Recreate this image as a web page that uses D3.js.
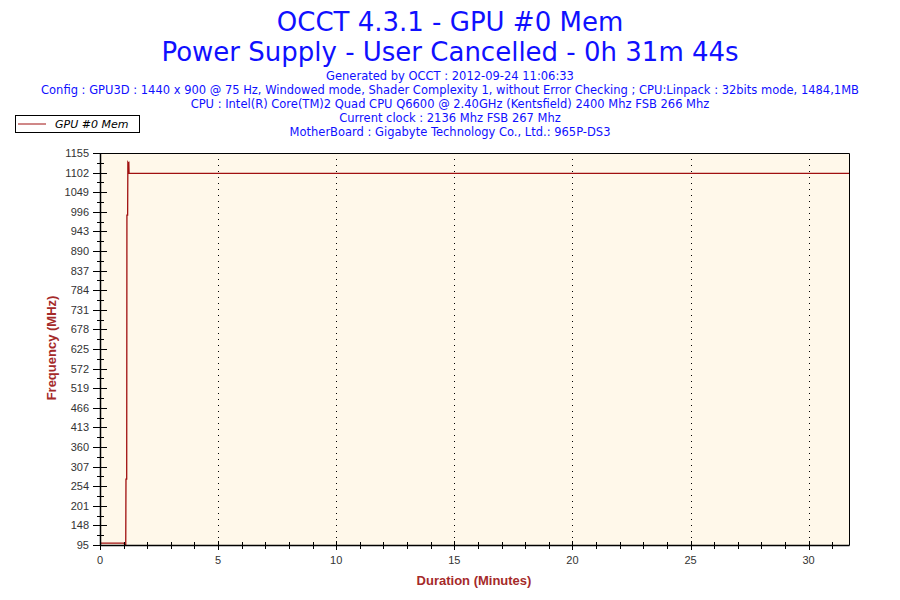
<!DOCTYPE html>
<html><head><meta charset="utf-8">
<script src="https://cdn.jsdelivr.net/npm/d3@7/dist/d3.min.js"></script>
<style>body{margin:0;background:#fff}svg{display:block}</style>
</head><body>
<svg id="c" width="900" height="600"></svg>
<script>
const titleLines = ["OCCT 4.3.1 - GPU #0 Mem", "Power Supply - User Cancelled - 0h 31m 44s"];
const infoLines = [
  "Generated by OCCT : 2012-09-24 11:06:33",
  "Config : GPU3D : 1440 x 900 @ 75 Hz, Windowed mode, Shader Complexity 1, without Error Checking ; CPU:Linpack : 32bits mode, 1484,1MB",
  "CPU : Intel(R) Core(TM)2 Quad CPU Q6600 @ 2.40GHz (Kentsfield) 2400 Mhz FSB 266 Mhz",
  "Current clock : 2136 Mhz FSB 267 Mhz",
  "MotherBoard : Gigabyte Technology Co., Ltd.: 965P-DS3"
];
const seriesName = "GPU #0 Mem";
const times  = [0, 1.02, 1.04, 1.09, 1.10, 1.13, 1.14, 1.17, 1.18, 1.20, 1.22, 1.23, 31.73];
const values = [100, 100, 96, 96, 273, 273, 987, 987, 1130, 1128, 1129, 1100, 1100];
const yTicks = [95,148,201,254,307,360,413,466,519,572,625,678,731,784,837,890,943,996,1049,1102,1155];
const xTicks = [0,5,10,15,20,25,30];
const xMinor = d3.range(0, 32, 1);
const yMinor = d3.range(95 + 26.5, 1155, 53);

const svg = d3.select("#c");
const L = 100, R = 849.5, T = 153, B = 545;
const x = d3.scaleLinear().domain([0, 31.73]).range([L, R]);
const y = d3.scaleLinear().domain([95, 1155]).range([B, T]);

const blue = "#1010ff";
svg.selectAll("text.title").data(titleLines).join("text")
  .attr("x", 450).attr("y", (d,i) => 31 + i*30)
  .attr("text-anchor", "middle").attr("fill", blue)
  .style("font-family", "DejaVu Sans, Verdana, sans-serif").style("font-size", "26px")
  .text(d => d);
svg.selectAll("text.info").data(infoLines).join("text")
  .attr("x", 450).attr("y", (d,i) => 80 + i*14)
  .attr("text-anchor", "middle").attr("fill", blue)
  .style("font-family", "DejaVu Sans, Verdana, sans-serif").style("font-size", "11.5px")
  .text(d => d);

// plot background
svg.append("rect").attr("x", L).attr("y", T).attr("width", R-L).attr("height", B-T).attr("fill", "#fff8ea");

// grid
svg.selectAll("line.grid").data(xTicks.filter(d => d > 0)).join("line")
  .attr("x1", d => Math.round(x(d)) + 0.5).attr("x2", d => Math.round(x(d)) + 0.5)
  .attr("y1", T).attr("y2", B)
  .attr("stroke", "#000").attr("stroke-width", 1).attr("stroke-dasharray", "1,5");

// line
const line = d3.line().x((d,i) => x(times[i])).y(d => y(d));
svg.append("path").datum(values).attr("d", line)
  .attr("fill", "none").attr("stroke", "#a01010").attr("stroke-width", 1.3);

// border
svg.append("path").attr("d", `M${L+0.5},${T+0.5}H${R}V${B+0.5}`).attr("fill","none").attr("stroke","#000");

// axes lines
svg.append("line").attr("x1", L+0.5).attr("x2", L+0.5).attr("y1", T).attr("y2", B+0.5).attr("stroke", "#000").attr("stroke-width", 1.5);
svg.append("line").attr("x1", L).attr("x2", R).attr("y1", B+0.5).attr("y2", B+0.5).attr("stroke", "#000").attr("stroke-width", 1.5);

// y ticks
svg.selectAll("line.ymaj").data(yTicks).join("line")
  .attr("x1", L-7).attr("x2", L+7).attr("y1", d => Math.round(y(d))+0.5).attr("y2", d => Math.round(y(d))+0.5)
  .attr("stroke", "#000");
svg.selectAll("line.ymin").data(yMinor).join("line")
  .attr("x1", L-3).attr("x2", L+4).attr("y1", d => Math.round(y(d))+0.5).attr("y2", d => Math.round(y(d))+0.5)
  .attr("stroke", "#000");
svg.selectAll("text.ylab").data(yTicks).join("text")
  .attr("x", 89).attr("y", d => y(d) + 4)
  .attr("text-anchor", "end").attr("fill", "#333")
  .style("font-family", "Liberation Sans, Arial, sans-serif").style("font-size", "11px")
  .text(d => d);

// x ticks
svg.selectAll("line.xmin").data(xMinor).join("line")
  .attr("x1", d => Math.round(x(d))+0.5).attr("x2", d => Math.round(x(d))+0.5)
  .attr("y1", B-3).attr("y2", B+4).attr("stroke", "#000");
svg.selectAll("line.xmaj").data(xTicks).join("line")
  .attr("x1", d => Math.round(x(d))+0.5).attr("x2", d => Math.round(x(d))+0.5)
  .attr("y1", B-4).attr("y2", B+5).attr("stroke", "#000");
svg.selectAll("text.xlab").data(xTicks).join("text")
  .attr("x", d => x(d)).attr("y", 564)
  .attr("text-anchor", "middle").attr("fill", "#333")
  .style("font-family", "Liberation Sans, Arial, sans-serif").style("font-size", "11px")
  .text(d => d);

// axis titles
const red = "#a52a2a";
svg.append("text").attr("x", 474).attr("y", 585).attr("text-anchor", "middle")
  .attr("fill", red).style("font-family", "Liberation Sans, Arial, sans-serif")
  .style("font-size", "13px").style("font-weight", "bold").text("Duration (Minutes)");
svg.append("text").attr("transform", "translate(56,348) rotate(-90)").attr("text-anchor", "middle")
  .attr("fill", red).style("font-family", "Liberation Sans, Arial, sans-serif")
  .style("font-size", "13px").style("font-weight", "bold").text("Frequency (MHz)");

// legend
svg.append("rect").attr("x", 15.5).attr("y", 115.5).attr("width", 124).attr("height", 17)
  .attr("fill", "#fff").attr("stroke", "#000");
svg.append("line").attr("x1", 18).attr("x2", 46).attr("y1", 124).attr("y2", 124).attr("stroke", "#a01010");
svg.append("text").attr("x", 55).attr("y", 128).attr("fill", "#000")
  .style("font-family", "DejaVu Sans, Verdana, sans-serif").style("font-size", "11px").style("font-style", "italic")
  .text(seriesName);
</script>
</body></html>
